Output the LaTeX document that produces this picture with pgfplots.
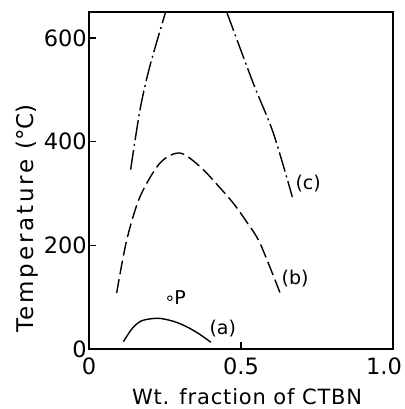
\documentclass[border=0pt]{standalone}
\usepackage{fontspec}
\setmainfont{DejaVu Sans}
\newfontfamily\ylabfont[LetterSpace=12]{DejaVu Sans}
\newfontfamily\xlabfont[LetterSpace=4]{DejaVu Sans}
\usepackage{pgfplots}
\pgfplotsset{compat=1.18}
\begin{document}
\begin{tikzpicture}
\useasboundingbox (-89pt,-60pt) rectangle (315pt,349pt);
\begin{axis}[name=ax, scale only axis, width=304pt, height=337pt,
  at={(0,0)}, anchor=south west,
  xmin=0, xmax=1, ymin=0, ymax=650,
  xtick={0,0.5,1}, xticklabels={0,0.5,{\hspace*{-18pt}1.0}},
  ytick={0,200,400,600},
  tick pos=left, tick align=inside, major tick length=7pt,
  axis line style={line width=1.2pt},
  every tick/.style={line width=1.2pt, black},
  /pgf/number format/assume math mode=true,
  tick label style={font=\fontsize{22.5}{24}\selectfont},
  yticklabel style={inner sep=0pt, xshift=-2pt},
  xticklabel style={inner sep=0pt, yshift=-9pt},
  xlabel={\xlabfont\fontsize{21}{24}\selectfont Wt. fraction of CTBN},
  xlabel style={at={(rel axis cs:0.52,-0.166)}, anchor=base, inner sep=0pt},
  ylabel={{\ylabfont\fontsize{23}{24}\selectfont Temperature}\hspace{10pt}{\fontsize{23}{24}\selectfont (°C)}},
  ylabel style={at={(rel axis cs:-0.184,0.387)}, anchor=base},
  clip=false]
% (a) solid
\addplot[black, line width=1.4pt, smooth] coordinates {
 (0.113,14) (0.14,38) (0.168,53) (0.2,58) (0.234,59) (0.28,53) (0.321,43) (0.36,30) (0.401,13)};
% (b) dashed
\addplot[black, line width=1.4pt, smooth, dash pattern=on 14pt off 5pt] coordinates {
 (0.091,108) (0.124,210) (0.168,294) (0.234,359) (0.299,378) (0.365,352) (0.42,318) (0.475,281) (0.52,244) (0.5625,204) (0.628,109)};
% (c) dash-dot
\addplot[black, line width=1.4pt, smooth, dash pattern=on 20pt off 4pt on 2pt off 4pt] coordinates {
 (0.137,346) (0.168,462) (0.2,545) (0.252,650)};
\addplot[black, line width=1.4pt, smooth, dash pattern=on 20pt off 4pt on 2pt off 4pt] coordinates {
 (0.453,650) (0.54,513) (0.606,417) (0.669,293)};
% point P
\addplot[only marks, mark=o, mark size=2.3pt, black, line width=0.9pt] coordinates {(0.266,98)};
\node[font=\fontsize{19}{22}\selectfont] at (axis cs:0.30,100) {P};
\node[font=\fontsize{19}{22}\selectfont] at (axis cs:0.44,40) {(a)};
\node[font=\fontsize{19}{22}\selectfont] at (axis cs:0.678,136) {(b)};
\node[font=\fontsize{19}{22}\selectfont] at (axis cs:0.721,320) {(c)};
\end{axis}
\end{tikzpicture}
\end{document}
